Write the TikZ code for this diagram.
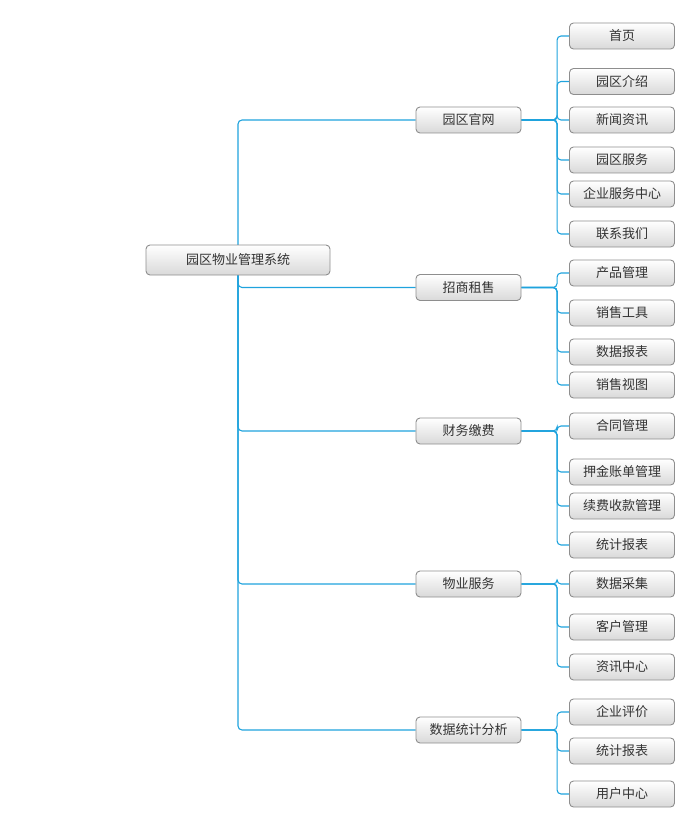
\documentclass[tikz,border=0pt]{standalone}
\usepackage{fontspec}
\setmainfont{Noto Sans CJK SC}
\usetikzlibrary{backgrounds}
\definecolor{linec}{HTML}{1FA3DD}
\definecolor{boxd}{HTML}{8E8E8E}
\definecolor{txt}{HTML}{333333}
\definecolor{botc}{HTML}{D9D9D9}
\tikzset{
  box/.style={draw=boxd, line width=0.9pt, rounded corners=4pt, top color=white, bottom color=botc,
    minimum width=105pt, minimum height=26pt, inner sep=0pt, text=txt, font=\fontsize{13}{15}\selectfont},
  rootbox/.style={box, minimum width=184pt, minimum height=30pt},
  conn/.style={draw=linec, line width=1.1pt, rounded corners=4pt},
}
\begin{document}
\begin{tikzpicture}[x=1pt,y=-1pt]
\useasboundingbox (0,0) rectangle (683,813);
\node[rootbox] (r) at (238,260) {园区物业管理系统};
% level 1
\node[box] (a) at (468.5,120) {园区官网};
\node[box] (b) at (468.5,287.5) {招商租售};
\node[box] (c) at (468.5,431) {财务缴费};
\node[box] (d) at (468.5,584) {物业服务};
\node[box] (e) at (468.5,730) {数据统计分析};
% level 2
\node[box] (a1) at (622,36) {首页};
\node[box] (a2) at (622,81.5) {园区介绍};
\node[box] (a3) at (622,120) {新闻资讯};
\node[box] (a4) at (622,160) {园区服务};
\node[box] (a5) at (622,194) {企业服务中心};
\node[box] (a6) at (622,234) {联系我们};
\node[box] (b1) at (622,273) {产品管理};
\node[box] (b2) at (622,313) {销售工具};
\node[box] (b3) at (622,352) {数据报表};
\node[box] (b4) at (622,385) {销售视图};
\node[box] (c1) at (622,426) {合同管理};
\node[box] (c2) at (622,472) {押金账单管理};
\node[box] (c3) at (622,506) {续费收款管理};
\node[box] (c4) at (622,545) {统计报表};
\node[box] (d1) at (622,584) {数据采集};
\node[box] (d2) at (622,627) {客户管理};
\node[box] (d3) at (622,667) {资讯中心};
\node[box] (e1) at (622,712) {企业评价};
\node[box] (e2) at (622,751) {统计报表};
\node[box] (e3) at (622,794) {用户中心};
\begin{scope}[on background layer]
\foreach \n in {a,b,c,d,e} \draw[conn] (r.center) |- (\n.west);
\foreach \p/\cs in {a/{a1,a2,a3,a4,a5,a6}, b/{b1,b2,b3,b4}, c/{c1,c2,c3,c4}, d/{d1,d2,d3}, e/{e1,e2,e3}}
  \foreach \k in \cs \draw[conn] (\p.east) -| ([xshift=-12pt]\k.west) -- (\k.west);
\end{scope}
\end{tikzpicture}
\end{document}
